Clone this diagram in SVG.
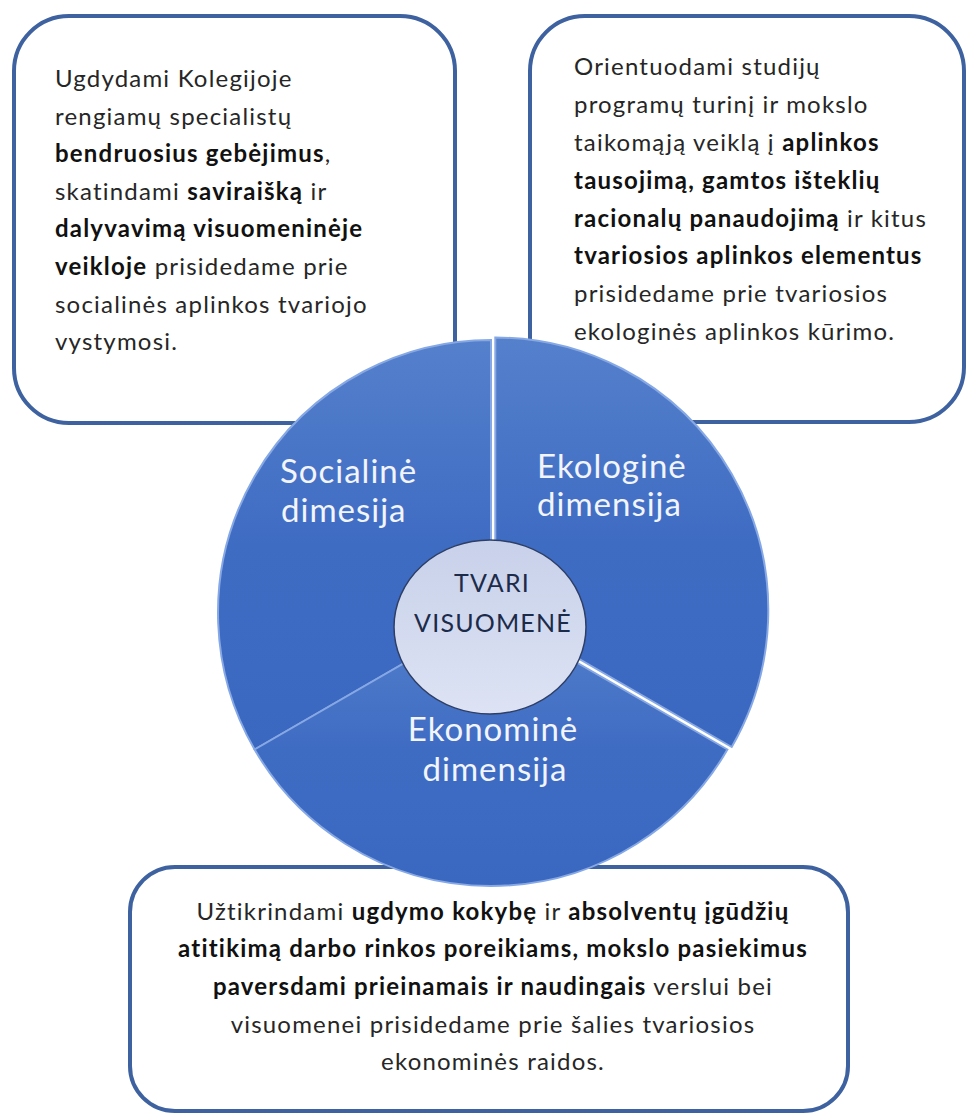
<svg xmlns="http://www.w3.org/2000/svg" width="967" height="1115" viewBox="0 0 967 1115">
<defs>
<style>
.box{fill:#fff;stroke:#3E62A0;stroke-width:4}
.t{font-family:Lato,"Liberation Sans",sans-serif;font-size:24px;letter-spacing:1.2px;fill:#262626}
.b{font-weight:bold;fill:#111}
.seg{stroke:#86A8E4;stroke-width:2}
.lbl{font-family:Lato,"Liberation Sans",sans-serif;font-size:33px;letter-spacing:1px;fill:#F2F5FC}
.ctr{font-family:Lato,"Liberation Sans",sans-serif;font-size:25px;letter-spacing:1.2px;fill:#1C2B4A;text-anchor:middle}
</style>
<linearGradient id="segFill" x1="0" y1="0" x2="0" y2="1" gradientUnits="objectBoundingBox">
<stop offset="0" stop-color="#5580CC"/>
<stop offset="0.5" stop-color="#3F6CC3"/>
<stop offset="1" stop-color="#3A67C0"/>
</linearGradient>
<linearGradient id="ctrFill" x1="0" y1="0" x2="0" y2="1">
<stop offset="0" stop-color="#C8D1EA"/>
<stop offset="1" stop-color="#DDE3F4"/>
</linearGradient>
</defs>

<g id="box-social">
<rect class="box" x="14" y="16" width="441" height="407" rx="55"/>
<text class="t" x="55" y="87">Ugdydami Kolegijoje</text>
<text class="t" x="55" y="125">rengiamų specialistų</text>
<text class="t" x="55" y="162"><tspan class="b">bendruosius gebėjimus</tspan>,</text>
<text class="t" x="55" y="200">skatindami <tspan class="b">saviraišką</tspan> ir</text>
<text class="t" x="55" y="237"><tspan class="b">dalyvavimą visuomeninėje</tspan></text>
<text class="t" x="55" y="275"><tspan class="b">veikloje</tspan> prisidedame prie</text>
<text class="t" x="55" y="313">socialinės aplinkos tvariojo</text>
<text class="t" x="55" y="350">vystymosi.</text>
</g>

<g id="box-ecological">
<rect class="box" x="530" y="16" width="434" height="406" rx="55"/>
<text class="t" x="574" y="75">Orientuodami studijų</text>
<text class="t" x="574" y="113">programų turinį ir mokslo</text>
<text class="t" x="574" y="151">taikomąją veiklą į <tspan class="b">aplinkos</tspan></text>
<text class="t" x="574" y="189"><tspan class="b">tausojimą, gamtos išteklių</tspan></text>
<text class="t" x="574" y="227"><tspan class="b">racionalų panaudojimą</tspan> ir kitus</text>
<text class="t" x="574" y="264"><tspan class="b">tvariosios aplinkos elementus</tspan></text>
<text class="t" x="574" y="302">prisidedame prie tvariosios</text>
<text class="t" x="574" y="340">ekologinės aplinkos kūrimo.</text>
</g>

<g id="box-economic">
<rect class="box" x="130" y="867" width="718" height="244" rx="45"/>
<g text-anchor="middle">
<text class="t" x="493" y="920">Užtikrindami <tspan class="b">ugdymo kokybę</tspan> ir <tspan class="b">absolventų įgūdžių</tspan></text>
<text class="t" x="493" y="957"><tspan class="b">atitikimą darbo rinkos poreikiams, mokslo pasiekimus</tspan></text>
<text class="t" x="493" y="995"><tspan class="b">paversdami prieinamais ir naudingais</tspan> verslui bei</text>
<text class="t" x="493" y="1033">visuomenei prisidedame prie šalies tvariosios</text>
<text class="t" x="493" y="1070">ekonominės raidos.</text>
</g>
</g>

<g id="segment-social">
<path class="seg" fill="url(#segFill)" d="M491 613 L254.6 749.5 A273 273 0 0 1 491 340 Z"/>
<text class="lbl" x="280" y="483">Socialinė</text>
<text class="lbl" x="281" y="522">dimesija</text>
</g>
<g id="segment-ecological">
<path class="seg" fill="url(#segFill)" d="M495.3 610.5 L495.3 337.5 A273 273 0 0 1 731.7 747 Z"/>
<text class="lbl" x="537" y="478">Ekologinė</text>
<text class="lbl" x="537" y="516">dimensija</text>
</g>
<g id="segment-economic">
<path class="seg" fill="url(#segFill)" d="M491 613 L727.4 749.5 A273 273 0 0 1 254.6 749.5 Z"/>
<text class="lbl" x="493" y="741" text-anchor="middle" font-size="34">Ekonominė</text>
<text class="lbl" x="495" y="781" text-anchor="middle">dimensija</text>
</g>

<g id="center">
<ellipse cx="490" cy="627" rx="96" ry="87" fill="url(#ctrFill)" stroke="#2E3F66" stroke-width="1.5"/>
<text class="ctr" x="492" y="592">TVARI</text>
<text class="ctr" x="493" y="632">VISUOMENĖ</text>
</g>
</svg>
